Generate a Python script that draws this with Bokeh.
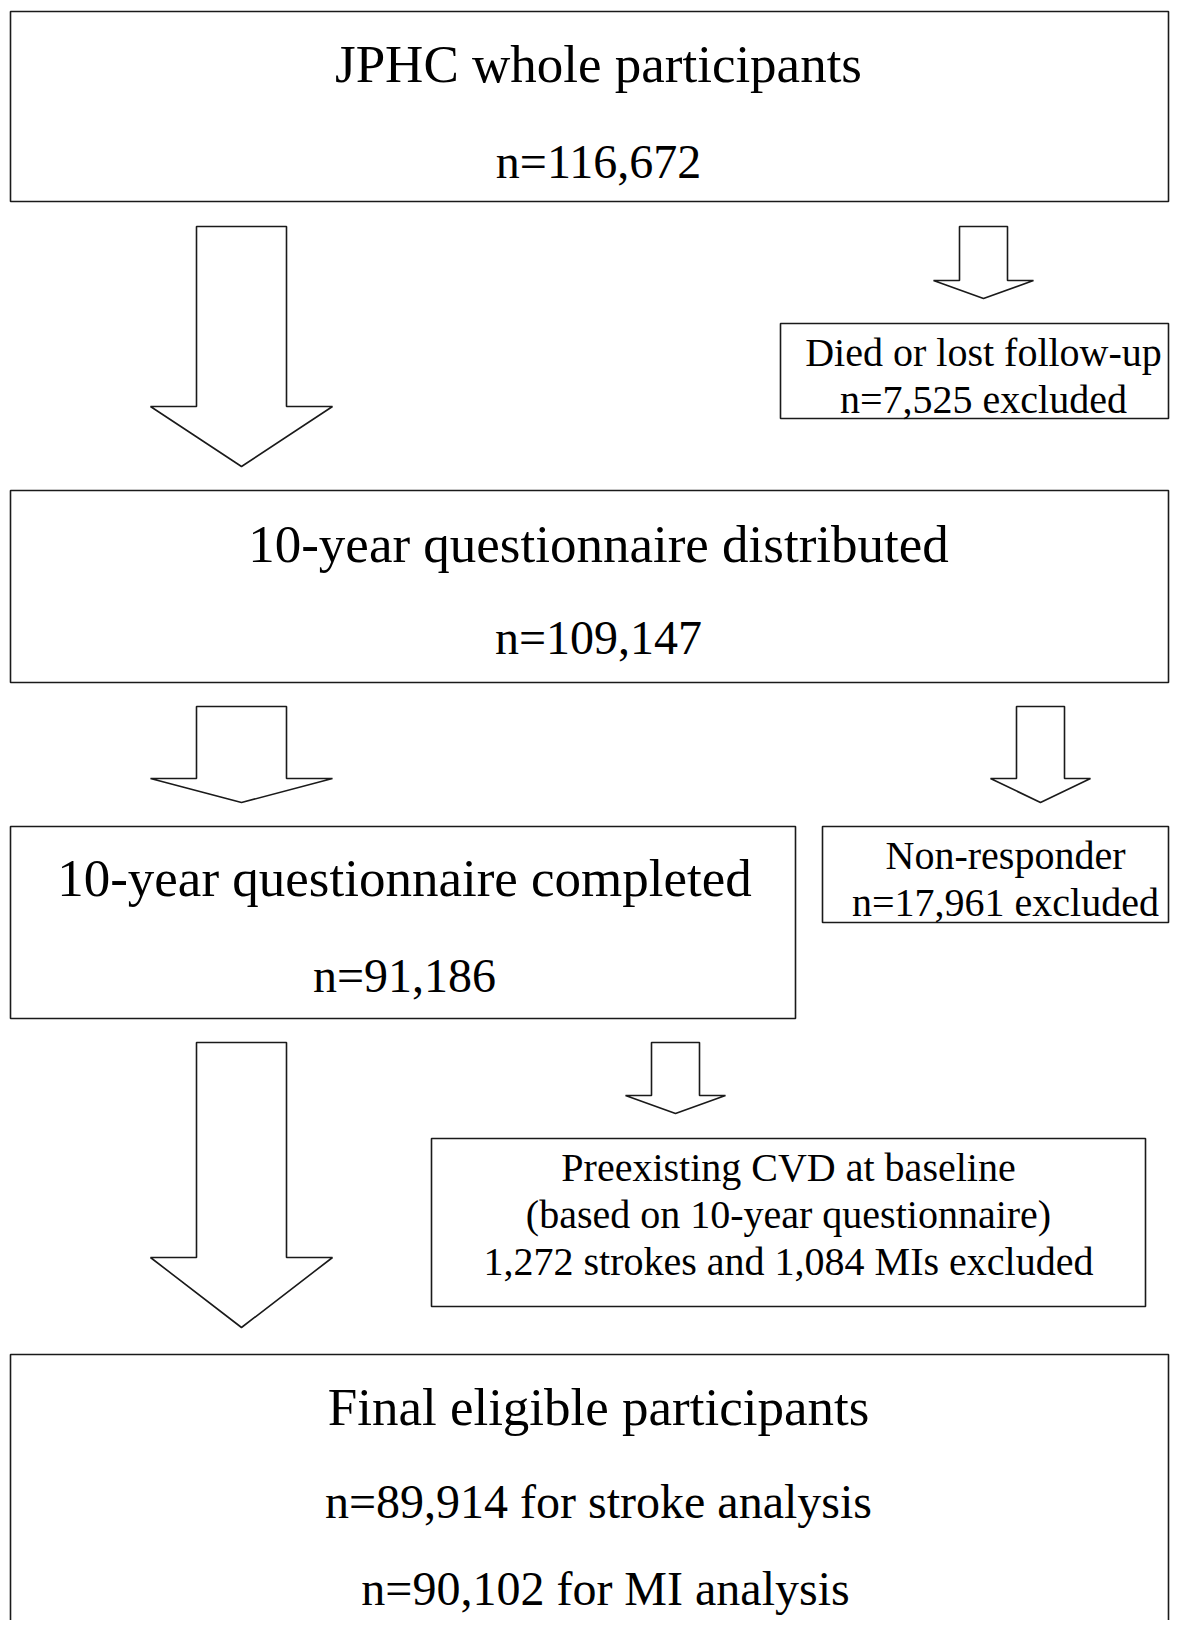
from bokeh.plotting import figure
from bokeh.models import Range1d
from bokeh.core.properties import value
from bokeh.embed import file_html
from bokeh.resources import INLINE

# ---------------- data ----------------
stage_titles = ["JPHC whole participants",
                "10-year questionnaire distributed",
                "10-year questionnaire completed",
                "Final eligible participants"]
stage_counts = ["n=116,672", "n=109,147", "n=91,186",
                "n=89,914 for stroke analysis"]
final_extra = ["n=90,102 for MI analysis"]

excl_labels = ["Died or lost follow-up",
               "Non-responder",
               "Preexisting CVD at baseline\n(based on 10-year questionnaire)"]
excl_counts = ["n=7,525 excluded",
               "n=17,961 excluded",
               "1,272 strokes and 1,084 MIs excluded"]

# ---------------- layout (page pixel coordinates) ----------------
W, H = 1170, 1620
FONT = "Liberation Serif"

p = figure(width=W, height=H, output_backend="svg", toolbar_location=None,
           x_range=Range1d(0, W), y_range=Range1d(H, 0),
           min_border=0)
p.axis.visible = False
p.xgrid.visible = False
p.ygrid.visible = False
p.outline_line_color = None
p.background_fill_color = "white"
p.border_fill_color = "white"

XR = 1168  # right edge (clipped to the figure)

main_boxes = dict(left=[10, 10, 10, 10], right=[XR, XR, 795, XR],
                  top=[11, 490, 826, 1354], bottom=[201, 682, 1018, 1700])
excl_boxes = dict(left=[780, 822, 431], right=[XR, XR, 1145],
                  top=[323, 826, 1138], bottom=[418, 922, 1306])

for b in (main_boxes, excl_boxes):
    p.quad(left=b["left"], right=b["right"], top=b["top"], bottom=b["bottom"],
           fill_color="white", line_color="#1a1a1a", line_width=1.6)

# arrows: (center x, shaft half width, head half width, top, shoulder, tip)
arrow_geom = [
    (241, 45, 91, 226, 406, 466),
    (983, 24, 50, 226, 280, 298),
    (241, 45, 91, 706, 778, 802),
    (1040, 24, 50, 706, 778, 802),
    (241, 45, 91, 1042, 1257, 1327),
    (675, 24, 50, 1042, 1095, 1113),
]
xs, ys = [], []
for cx, sw, hw, top, sh, tip in arrow_geom:
    xs.append([cx - sw, cx + sw, cx + sw, cx + hw, cx, cx - hw, cx - sw])
    ys.append([top, top, sh, sh, tip, sh, sh])
p.patches(xs, ys, fill_color="white", line_color="#1a1a1a", line_width=1.6)

# ---------------- texts ----------------
main_cx = [598, 598, 404, 598]
title_y = [63, 543, 877, 1406]
count_y = [161, 637, 975, 1501]

p.text(x=main_cx, y=title_y, text=stage_titles, text_font=value(FONT),
       text_font_size="53px", text_align="center", text_baseline="middle",
       text_color="black")
p.text(x=main_cx, y=count_y, text=stage_counts, text_font=value(FONT),
       text_font_size="48px", text_align="center", text_baseline="middle",
       text_color="black")
p.text(x=[605], y=[1588], text=final_extra, text_font=value(FONT),
       text_font_size="48px", text_align="center", text_baseline="middle",
       text_color="black")

ex_cx = [983, 1005, 788]
lines_x, lines_y, lines_t = [], [], []
ex_first_y = [352, 855, 1167]
for i, (lab, cnt) in enumerate(zip(excl_labels, excl_counts)):
    parts = lab.split("\n") + [cnt]
    for j, t in enumerate(parts):
        lines_x.append(ex_cx[i])
        lines_y.append(ex_first_y[i] + 47 * j)
        lines_t.append(t)
p.text(x=lines_x, y=lines_y, text=lines_t, text_font=value(FONT),
       text_font_size="40px", text_align="center", text_baseline="middle",
       text_color="black")

open("out.html", "w").write(file_html(p, INLINE))
